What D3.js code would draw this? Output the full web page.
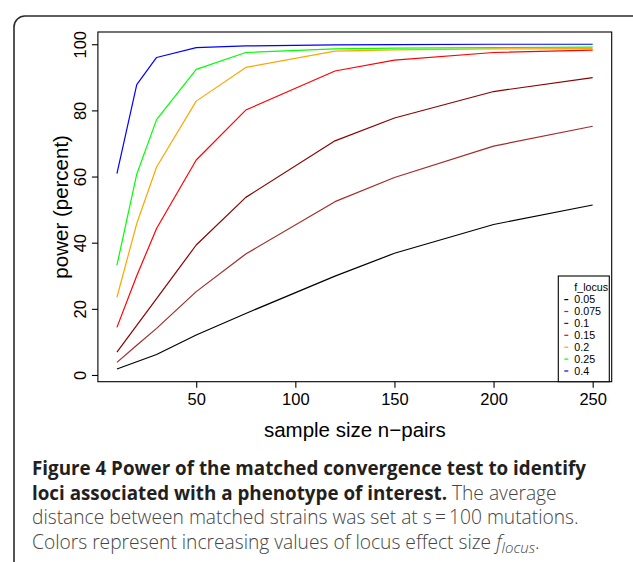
<!DOCTYPE html>
<html>
<head>
<meta charset="utf-8">
<script src="https://cdn.jsdelivr.net/npm/d3@7"></script>
<style>
  html, body { margin: 0; padding: 0; background: #fff; }
  svg { display: block; }
</style>
</head>
<body>
<svg id="fig" width="633" height="562"></svg>
<script>
// Sample sizes (number of matched pairs)
const sampleSizes = [10, 20, 30, 50, 75, 120, 150, 200, 250];

// Effect sizes shown in the legend, lowest first
const fLocus = ["0.05", "0.075", "0.1", "0.15", "0.2", "0.25", "0.4"];
const lineColors = ["#000000", "#a52a2a", "#8b0000", "#ff0000", "#ffa500", "#00ff00", "#0000ff"];

// Power (percent) for each effect size, one value per sample size
const power005  = [1.8, 4.0, 6.2, 12.1, 18.6, 29.9, 36.8, 45.5, 51.4];
const power0075 = [3.8, 9.0, 14.1, 25.2, 36.6, 52.4, 59.7, 69.2, 75.2];
const power01   = [6.9, 15.0, 23.1, 39.3, 53.7, 70.8, 77.7, 85.7, 89.9];
const power015  = [14.4, 30.0, 44.3, 65.0, 80.1, 91.9, 95.2, 97.5, 98.2];
const power02   = [23.5, 45.8, 62.9, 82.8, 93.0, 97.9, 98.3, 98.6, 98.7];
const power025  = [33.2, 60.7, 77.2, 92.4, 97.5, 98.6, 98.8, 99.0, 99.1];
const power04   = [60.9, 87.8, 96.0, 99.0, 99.5, 99.8, 99.9, 100.0, 100.0];

const powerSeries = [power005, power0075, power01, power015, power02, power025, power04];

const xTicks = [50, 100, 150, 200, 250];
const yTicks = [0, 20, 40, 60, 80, 100];

const svg = d3.select("#fig");
const plotFont = "'Liberation Sans', Arial, Helvetica, sans-serif";
const capFont = "'Open Sans', 'Noto Sans', sans-serif";

// Figure frame with rounded corners (open at the bottom)
svg.append("rect")
  .attr("x", 14).attr("y", 16)
  .attr("width", 640).attr("height", 600)
  .attr("rx", 11).attr("ry", 11)
  .attr("fill", "none").attr("stroke", "#2b2b2b").attr("stroke-width", 1.6);

// Scales (domain padded like a base R plot)
const x = d3.scaleLinear().domain([0.4, 259.6]).range([97.9, 611.7]);
const y = d3.scaleLinear().domain([-2.03, 103.7]).range([381.7, 32]);

// Lines
const line = d3.line()
  .x((d, i) => x(sampleSizes[i]))
  .y(d => y(d));

svg.append("g").selectAll("path")
  .data(powerSeries)
  .join("path")
  .attr("d", d => line(d))
  .attr("fill", "none")
  .attr("stroke", (d, i) => lineColors[i])
  .attr("stroke-width", 1.2)
  .attr("stroke-linejoin", "round");

// Plot box
svg.append("rect")
  .attr("x", x.range()[0]).attr("y", y.range()[1])
  .attr("width", x.range()[1] - x.range()[0])
  .attr("height", y.range()[0] - y.range()[1])
  .attr("fill", "none").attr("stroke", "#000").attr("stroke-width", 1.1);

// Axes
const xAxis = d3.axisBottom(x).tickValues(xTicks).tickSize(6).tickPadding(6).tickFormat(d3.format("d"));
const gx = svg.append("g").attr("transform", `translate(0,${y.range()[0]})`).call(xAxis);
gx.select(".domain").remove();
gx.selectAll("line").attr("stroke", "#000").attr("stroke-width", 1.1);
gx.selectAll("text").attr("font-family", plotFont).attr("font-size", 16.5).attr("fill", "#000");

const yAxis = d3.axisLeft(y).tickValues(yTicks).tickSize(6).tickFormat(d3.format("d"));
const gy = svg.append("g").attr("transform", `translate(${x.range()[0]},0)`).call(yAxis);
gy.select(".domain").remove();
gy.selectAll("line").attr("stroke", "#000").attr("stroke-width", 1.1);
// tick labels run parallel to the axis
gy.selectAll("text")
  .attr("font-family", plotFont).attr("font-size", 16.5).attr("fill", "#000")
  .attr("x", 0).attr("y", 0).attr("dy", null)
  .attr("text-anchor", "middle")
  .attr("transform", "translate(-12,0) rotate(-90)");

// Axis titles
svg.append("text")
  .attr("x", (x.range()[0] + x.range()[1]) / 2).attr("y", 437)
  .attr("text-anchor", "middle")
  .attr("font-family", plotFont).attr("font-size", 20.5)
  .text("sample size n\u2212pairs");

svg.append("text")
  .attr("transform", `translate(68,${(y.range()[0] + y.range()[1]) / 2}) rotate(-90)`)
  .attr("text-anchor", "middle")
  .attr("font-family", plotFont).attr("font-size", 20.5)
  .text("power (percent)");

// Legend
const lg = svg.append("g");
const lgLeft = 558.3, lgRight = 609.3, lgTop = 276, rowH = 11.9;
lg.append("rect")
  .attr("x", lgLeft).attr("y", lgTop)
  .attr("width", lgRight - lgLeft).attr("height", y.range()[0] - lgTop)
  .attr("fill", "#fff").attr("stroke", "#000").attr("stroke-width", 1.1);
lg.append("text")
  .attr("x", 574.3).attr("y", lgTop + 11.7).attr("dy", "0.35em")
  .attr("font-family", plotFont).attr("font-size", 10.7)
  .text("f_locus");
const rows = lg.selectAll("g.row").data(fLocus).join("g")
  .attr("class", "row")
  .attr("transform", (d, i) => `translate(0,${lgTop + 11.7 + rowH * (i + 1)})`);
rows.append("line")
  .attr("x1", 564.3).attr("x2", 568.3)
  .attr("stroke", (d, i) => lineColors[i]).attr("stroke-width", 1.2);
rows.append("text")
  .attr("x", 574.3).attr("dy", "0.35em")
  .attr("font-family", plotFont).attr("font-size", 10.7)
  .text(d => d);

// Caption
const cap = svg.append("g").attr("font-family", capFont).attr("font-size", 18.8);
const capX = 32;
const regSize = 19.2;
cap.append("text").attr("x", capX).attr("y", 475)
  .attr("font-weight", 700).attr("fill", "#231f20")
  .text("Figure 4 Power of the matched convergence test to identify");
const l2 = cap.append("text").attr("x", capX).attr("y", 499.5);
l2.append("tspan").attr("font-weight", 700).attr("fill", "#231f20")
  .text("loci associated with a phenotype of interest.");
l2.append("tspan").attr("font-weight", 300).attr("fill", "#444")
  .attr("font-size", regSize)
  .text(" The average");
cap.append("text").attr("x", capX).attr("y", 524)
  .attr("font-weight", 300).attr("fill", "#444").attr("font-size", regSize)
  .text("distance between matched strains was set at s\u2009=\u2009100 mutations.");
const l4 = cap.append("text").attr("x", capX).attr("y", 548.5)
  .attr("font-weight", 300).attr("fill", "#444").attr("font-size", regSize);
l4.append("tspan").text("Colors represent increasing values of locus effect size ");
l4.append("tspan").attr("font-style", "italic").text("f");
l4.append("tspan").attr("font-style", "italic").attr("font-size", 15).attr("dy", 4).text("locus");
l4.append("tspan").attr("dy", -4).text(".");
</script>
</body>
</html>
